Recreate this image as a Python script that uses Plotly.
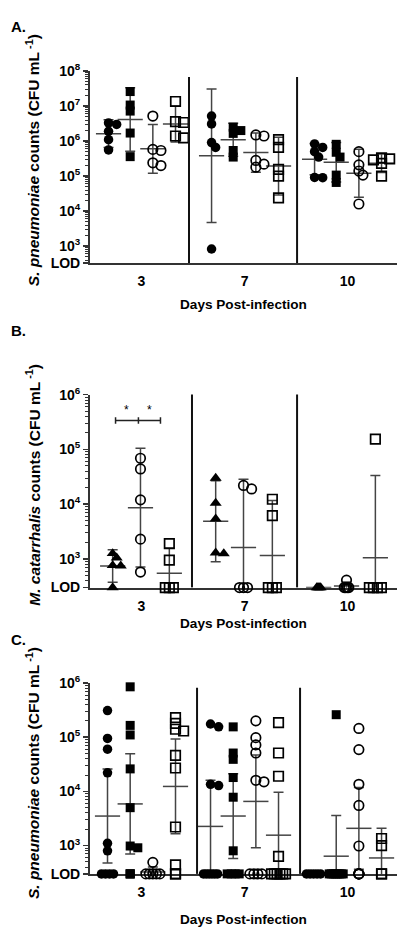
import numpy as np
import plotly.graph_objects as go

# ---------------- data ----------------
DAYS = ["3", "7", "10"]
LOD_A = 330      # axis floor of panel A
LOD = 300        # limit of detection, panels B and C

# Panel A - S. pneumoniae counts (CFU/mL), one list per day (3, 7, 10)
A_filled_circle = [[3.3e6, 3.0e6, 1.9e6, 1.1e6, 5.6e5],
                   [5.2e6, 3.1e6, 9.1e5, 6.6e5, 830],
                   [8.3e5, 6.6e5, 5.0e5, 3.5e5, 9.2e4, 9.0e4]]
A_filled_square = [[2.6e7, 1.07e7, 7.2e6, 1.7e6, 3.6e5],
                   [2.5e6, 2.0e6, 1.66e6, 5.4e5, 3.5e5],
                   [8.1e5, 4.8e5, 3.5e5, 1.07e5, 6.6e4]]
A_open_circle = [[5.2e6, 5.8e5, 5.4e5, 2.4e5, 2.0e5],
                 [1.5e6, 1.4e6, 2.8e5, 2.2e5, 1.8e5],
                 [5.0e5, 2.1e5, 1.4e5, 1.07e5, 1.6e4]]
A_open_square = [[1.35e7, 3.6e6, 3.4e6, 1.4e6, 1.23e6],
                 [1.1e6, 6.6e5, 1.55e5, 1.0e5, 2.4e4],
                 [3.3e5, 3.1e5, 2.9e5, 2.3e5, 1.0e5]]

# Panel B - M. catarrhalis counts
B_filled_triangle = [[1.26e3, 1.05e3, 760, 750, LOD],
                     [3.0e4, 1.05e4, 5.4e3, 1.29e3, 1.25e3],
                     [LOD, LOD, LOD, LOD, LOD]]
B_open_circle = [[6.9e4, 4.4e4, 1.2e4, 2.3e3, 575],
                 [2.2e4, 1.9e4, LOD, LOD, LOD],
                 [410, LOD, LOD, LOD, LOD]]
B_open_square = [[1.9e3, 950, LOD, LOD, LOD],
                 [1.23e4, 6.2e3, LOD, LOD, LOD],
                 [1.55e5, LOD, LOD, LOD, LOD]]

# Panel C - S. pneumoniae counts
C_filled_circle = [[3.1e5, 9.5e4, 6.0e4, 2.2e4, 1.1e3, 800, LOD, LOD, LOD, LOD],
                   [1.75e5, 1.55e5, 1.35e4, 1.28e4, LOD, LOD, LOD, LOD, LOD, LOD],
                   [LOD, LOD, LOD, LOD, LOD]]
C_filled_square = [[8.5e5, 1.65e5, 1.1e5, 2.6e4, 5.0e3, 980, 910, LOD, LOD, LOD],
                   [1.55e5, 5.1e4, 3.9e4, 1.8e4, 7.8e3, 800, LOD, LOD, LOD, LOD],
                   [2.6e5, LOD, LOD, LOD, LOD, LOD, LOD, LOD, LOD]]
C_open_circle = [[490, LOD, LOD, LOD, LOD, LOD],
                 [2.0e5, 9.8e4, 7.2e4, 5.1e4, 1.6e4, 1.5e4, LOD, LOD, LOD, LOD],
                 [1.45e5, 5.9e4, 1.35e4, 5.5e3, 980, LOD, LOD, LOD, LOD, LOD]]
C_open_square = [[2.3e5, 1.8e5, 1.4e5, 1.3e5, 4.6e4, 2.7e4, 2.2e3, 440, LOD, LOD],
                 [1.85e5, 5.1e4, 1.9e4, 630, LOD, LOD, LOD, LOD, LOD, LOD],
                 [1.35e3, 1.0e3, LOD, LOD]]

# ---------------- styling / layout ----------------
PAGE_MARGIN = 8                  # default body margin of the page
W, H = 407 - 2 * PAGE_MARGIN, 943 - 2 * PAGE_MARGIN
FONT = "Liberation Sans, Arial, Helvetica, sans-serif"


def px_x(x):   # window pixel -> paper fraction
    return (x - PAGE_MARGIN) / W


def px_y(y):
    return 1 - (y - PAGE_MARGIN) / H


X_PX = (90, 397)
XRANGE = [-0.5, 2.48]
XPX_PER_UNIT = (X_PX[1] - X_PX[0]) / (XRANGE[1] - XRANGE[0])
ERR_COLOR = "#444444"
AX_COLOR = "#333333"

STYLE = {
    "fc": dict(symbol="circle", size=9.5, lw=0, d=9),
    "fs": dict(symbol="square", size=9, lw=0, d=8.5),
    "oc": dict(symbol="circle-open", size=9.5, lw=1.7, d=9),
    "os": dict(symbol="square-open", size=9.5, lw=1.7, d=9),
    "ft": dict(symbol="triangle-up", size=10.5, lw=0, d=9),
}

T95 = {2: 12.706, 3: 4.303, 4: 3.182, 5: 2.776, 6: 2.571, 7: 2.447,
       8: 2.365, 9: 2.306, 10: 2.262, 11: 2.228, 12: 2.201}

PANELS = [
    dict(key="A", lod=LOD_A, top=1e8, bot_px=258, top_px=62,
         groups=[("fc", A_filled_circle, -0.32), ("fs", A_filled_square, -0.11),
                 ("oc", A_open_circle, 0.11), ("os", A_open_square, 0.33)],
         seps=[0.461, 1.51], sep_top=7.83,
         ytitle="<i>S. pneumoniae</i> counts (CFU mL<sup> -1</sup>)",
         ytitle_y=153, xtitle_y=300, letter="A.", letter_y=17),
    dict(key="B", lod=LOD, top=1e6, bot_px=589, top_px=392,
         groups=[("ft", B_filled_triangle, -0.28), ("oc", B_open_circle, -0.01),
                 ("os", B_open_square, 0.27)],
         seps=[0.49, 1.51], sep_top=6.04,
         ytitle="<i>M. catarrhalis</i> counts (CFU mL<sup> -1</sup>)",
         ytitle_y=484, xtitle_y=625, letter="B.", letter_y=327),
    dict(key="C", lod=LOD, top=1e6, bot_px=881, top_px=686,
         groups=[("fc", C_filled_circle, -0.33), ("fs", C_filled_square, -0.11),
                 ("oc", C_open_circle, 0.11), ("os", C_open_square, 0.33)],
         seps=[0.539, 1.539], sep_top=5.91,
         ytitle="<i>S. pneumoniae</i> counts (CFU mL<sup> -1</sup>)",
         ytitle_y=778, xtitle_y=927, letter="C.", letter_y=642),
]

# groups whose LOD points are drawn stacked / tightly packed (px spacing)
LOD_SPACING = {("B", 2, 0): 1.0, ("B", 2, 1): 1.5,
               ("C", 0, 1): 0.0, ("C", 0, 3): 0.0,
               ("C", 2, 2): 0.0, ("C", 2, 3): 0.0}


def spread(vals, lod, ppd, d, lod_sp):
    """Prism-like horizontal scatter (pixel offsets)."""
    vals = list(vals)
    logs = np.log10(vals)
    n = len(vals)
    off = np.zeros(n)
    lod_idx = [i for i, v in enumerate(vals) if v == lod]
    k = len(lod_idx)
    if lod_sp is None:
        lod_sp = min(4.0, 14.0 / (k - 1)) if k > 1 else 0.0
    for j, i in enumerate(lod_idx):
        off[i] = (j - (k - 1) / 2) * lod_sp
    placed = [(off[i], logs[i] * ppd) for i in lod_idx]
    others = sorted([i for i in range(n) if vals[i] != lod], key=lambda i: -vals[i])
    step = d * 0.45
    for i in others:
        y = logs[i] * ppd
        cand = 0.0
        for m in range(0, 30):
            cand = 0.0 if m == 0 else ((m + 1) // 2) * step * (1 if m % 2 else -1)
            if all(np.hypot(cand - px, y - py) >= d * 0.62 for px, py in placed):
                break
        off[i] = cand
        placed.append((cand, y))
    return off


fig = go.Figure()
shapes, annotations = [], []
layout_axes = {}

for pi, P in enumerate(PANELS):
    sfx = "" if pi == 0 else str(pi + 1)
    xa, ya = "x" + sfx, "y" + sfx
    lo, hi = np.log10(P["lod"]), np.log10(P["top"])
    ppd = (P["bot_px"] - P["top_px"]) / (hi - lo)

    # geometric mean with 95% CI (computed on log10 values), drawn behind points
    for gi, (sty, data, xoff) in enumerate(P["groups"]):
        xs, ys, cis = [], [], []
        for di, vals in enumerate(data):
            lg = np.log10(vals)
            n = len(lg)
            ci = T95[n] * lg.std(ddof=1) / np.sqrt(n) if n > 1 else 0.0
            xs.append(di + xoff)
            ys.append(lg.mean())
            cis.append(ci)
        fig.add_trace(go.Scatter(
            x=xs, y=ys, xaxis=xa, yaxis=ya, mode="markers", hoverinfo="skip",
            marker=dict(symbol="line-ew", size=18, color=ERR_COLOR,
                        line=dict(width=1.5, color=ERR_COLOR)),
            error_y=dict(type="data", array=cis, width=5, thickness=1.5,
                         color=ERR_COLOR),
            cliponaxis=True))

    # individual points (log10 of the counts)
    for gi, (sty, data, xoff) in enumerate(P["groups"]):
        st = STYLE[sty]
        xs, ys = [], []
        for di, vals in enumerate(data):
            off = spread(vals, P["lod"], ppd, st["d"],
                         LOD_SPACING.get((P["key"], di, gi)))
            for v, o in zip(vals, off):
                xs.append(di + xoff + o / XPX_PER_UNIT)
                ys.append(np.log10(v))
        fig.add_trace(go.Scatter(
            x=xs, y=ys, xaxis=xa, yaxis=ya, mode="markers", cliponaxis=False,
            hoverinfo="skip",
            marker=dict(symbol=st["symbol"], size=st["size"], color="black",
                        line=dict(width=st["lw"], color="black"))))

    # axes (linear in log10 units, labelled as powers of ten)
    top_exp = int(round(hi))
    tickvals = [lo] + list(range(3, top_exp + 1))
    ticktext = ["LOD"] + [f"10<sup>{k}</sup>" for k in range(3, top_exp + 1)]
    minor_vals = [float(np.log10(mm * 10 ** k)) for k in range(2, top_exp)
                  for mm in range(2, 10) if P["lod"] < mm * 10 ** k < P["top"]]
    ydom = [px_y(P["bot_px"]), px_y(P["top_px"])]
    layout_axes["yaxis" + sfx] = dict(
        domain=ydom, range=[lo - 0.003, hi + 0.003], anchor=xa,
        tickmode="array", tickvals=tickvals, ticktext=ticktext,
        ticks="outside", ticklen=5, tickwidth=1.5, tickcolor=AX_COLOR,
        showline=True, linecolor=AX_COLOR, linewidth=2, showgrid=False,
        zeroline=False, layer="below traces",
        tickfont=dict(family=FONT, size=14, color="black", weight="bold"),
        minor=dict(tickmode="array", tickvals=minor_vals, ticks="outside",
                   ticklen=3, tickwidth=1, tickcolor=AX_COLOR, showgrid=False))
    layout_axes["xaxis" + sfx] = dict(
        domain=[px_x(X_PX[0]), px_x(X_PX[1])], range=XRANGE, anchor=ya,
        tickmode="array", tickvals=[0, 1, 2], ticktext=DAYS,
        ticks="outside", ticklen=4, tickcolor="rgba(0,0,0,0)",
        showline=True, linecolor=AX_COLOR, linewidth=2, showgrid=False,
        zeroline=False, layer="below traces",
        tickfont=dict(family=FONT, size=14, color="black", weight="bold"))

    # day separators
    for sx in P["seps"]:
        shapes.append(dict(type="line", xref=xa, yref=ya, x0=sx, x1=sx,
                           y0=lo, y1=P["sep_top"], layer="above",
                           line=dict(color="#111111", width=2)))

    # titles
    annotations.append(dict(xref="paper", yref="paper", x=px_x(33), y=px_y(P["ytitle_y"]),
                            text=P["ytitle"], textangle=-90, showarrow=False,
                            xanchor="center", yanchor="middle",
                            font=dict(family=FONT, size=15.5, color="black", weight="bold")))
    annotations.append(dict(xref="paper", yref="paper", x=px_x(243), y=px_y(P["xtitle_y"]),
                            text="Days Post-infection", showarrow=False,
                            xanchor="center", yanchor="middle",
                            font=dict(family=FONT, size=13.6, color="black", weight="bold")))
    annotations.append(dict(xref="paper", yref="paper", x=px_x(9), y=px_y(P["letter_y"]),
                            text=P["letter"], showarrow=False,
                            xanchor="left", yanchor="middle",
                            font=dict(family=FONT, size=15, color="black", weight="bold")))

# significance bracket (panel B, day 3)
BR_Y = 5.53
BR_X = [-0.252, -0.03, 0.184]
BR_TICK = 0.06
shapes.append(dict(type="line", xref="x2", yref="y2", x0=BR_X[0], x1=BR_X[2],
                   y0=BR_Y, y1=BR_Y, line=dict(color="#222222", width=1.5)))
for bx in BR_X:
    shapes.append(dict(type="line", xref="x2", yref="y2", x0=bx, x1=bx,
                       y0=BR_Y - BR_TICK, y1=BR_Y + BR_TICK,
                       line=dict(color="#222222", width=1.5)))
for sx in [(BR_X[0] + BR_X[1]) / 2, (BR_X[1] + BR_X[2]) / 2]:
    annotations.append(dict(xref="x2", yref="y2", x=sx, y=BR_Y + 0.03, text="*",
                            showarrow=False, xanchor="center", yanchor="bottom",
                            font=dict(family=FONT, size=12, color="black")))

fig.update_layout(
    width=W, height=H, autosize=False,
    margin=dict(l=0, r=0, t=0, b=0),
    paper_bgcolor="white", plot_bgcolor="white",
    showlegend=False, shapes=shapes, annotations=annotations,
    font=dict(family=FONT, color="black"),
    **layout_axes)

fig.write_html("out.html", config={"displayModeBar": False, "staticPlot": True})
